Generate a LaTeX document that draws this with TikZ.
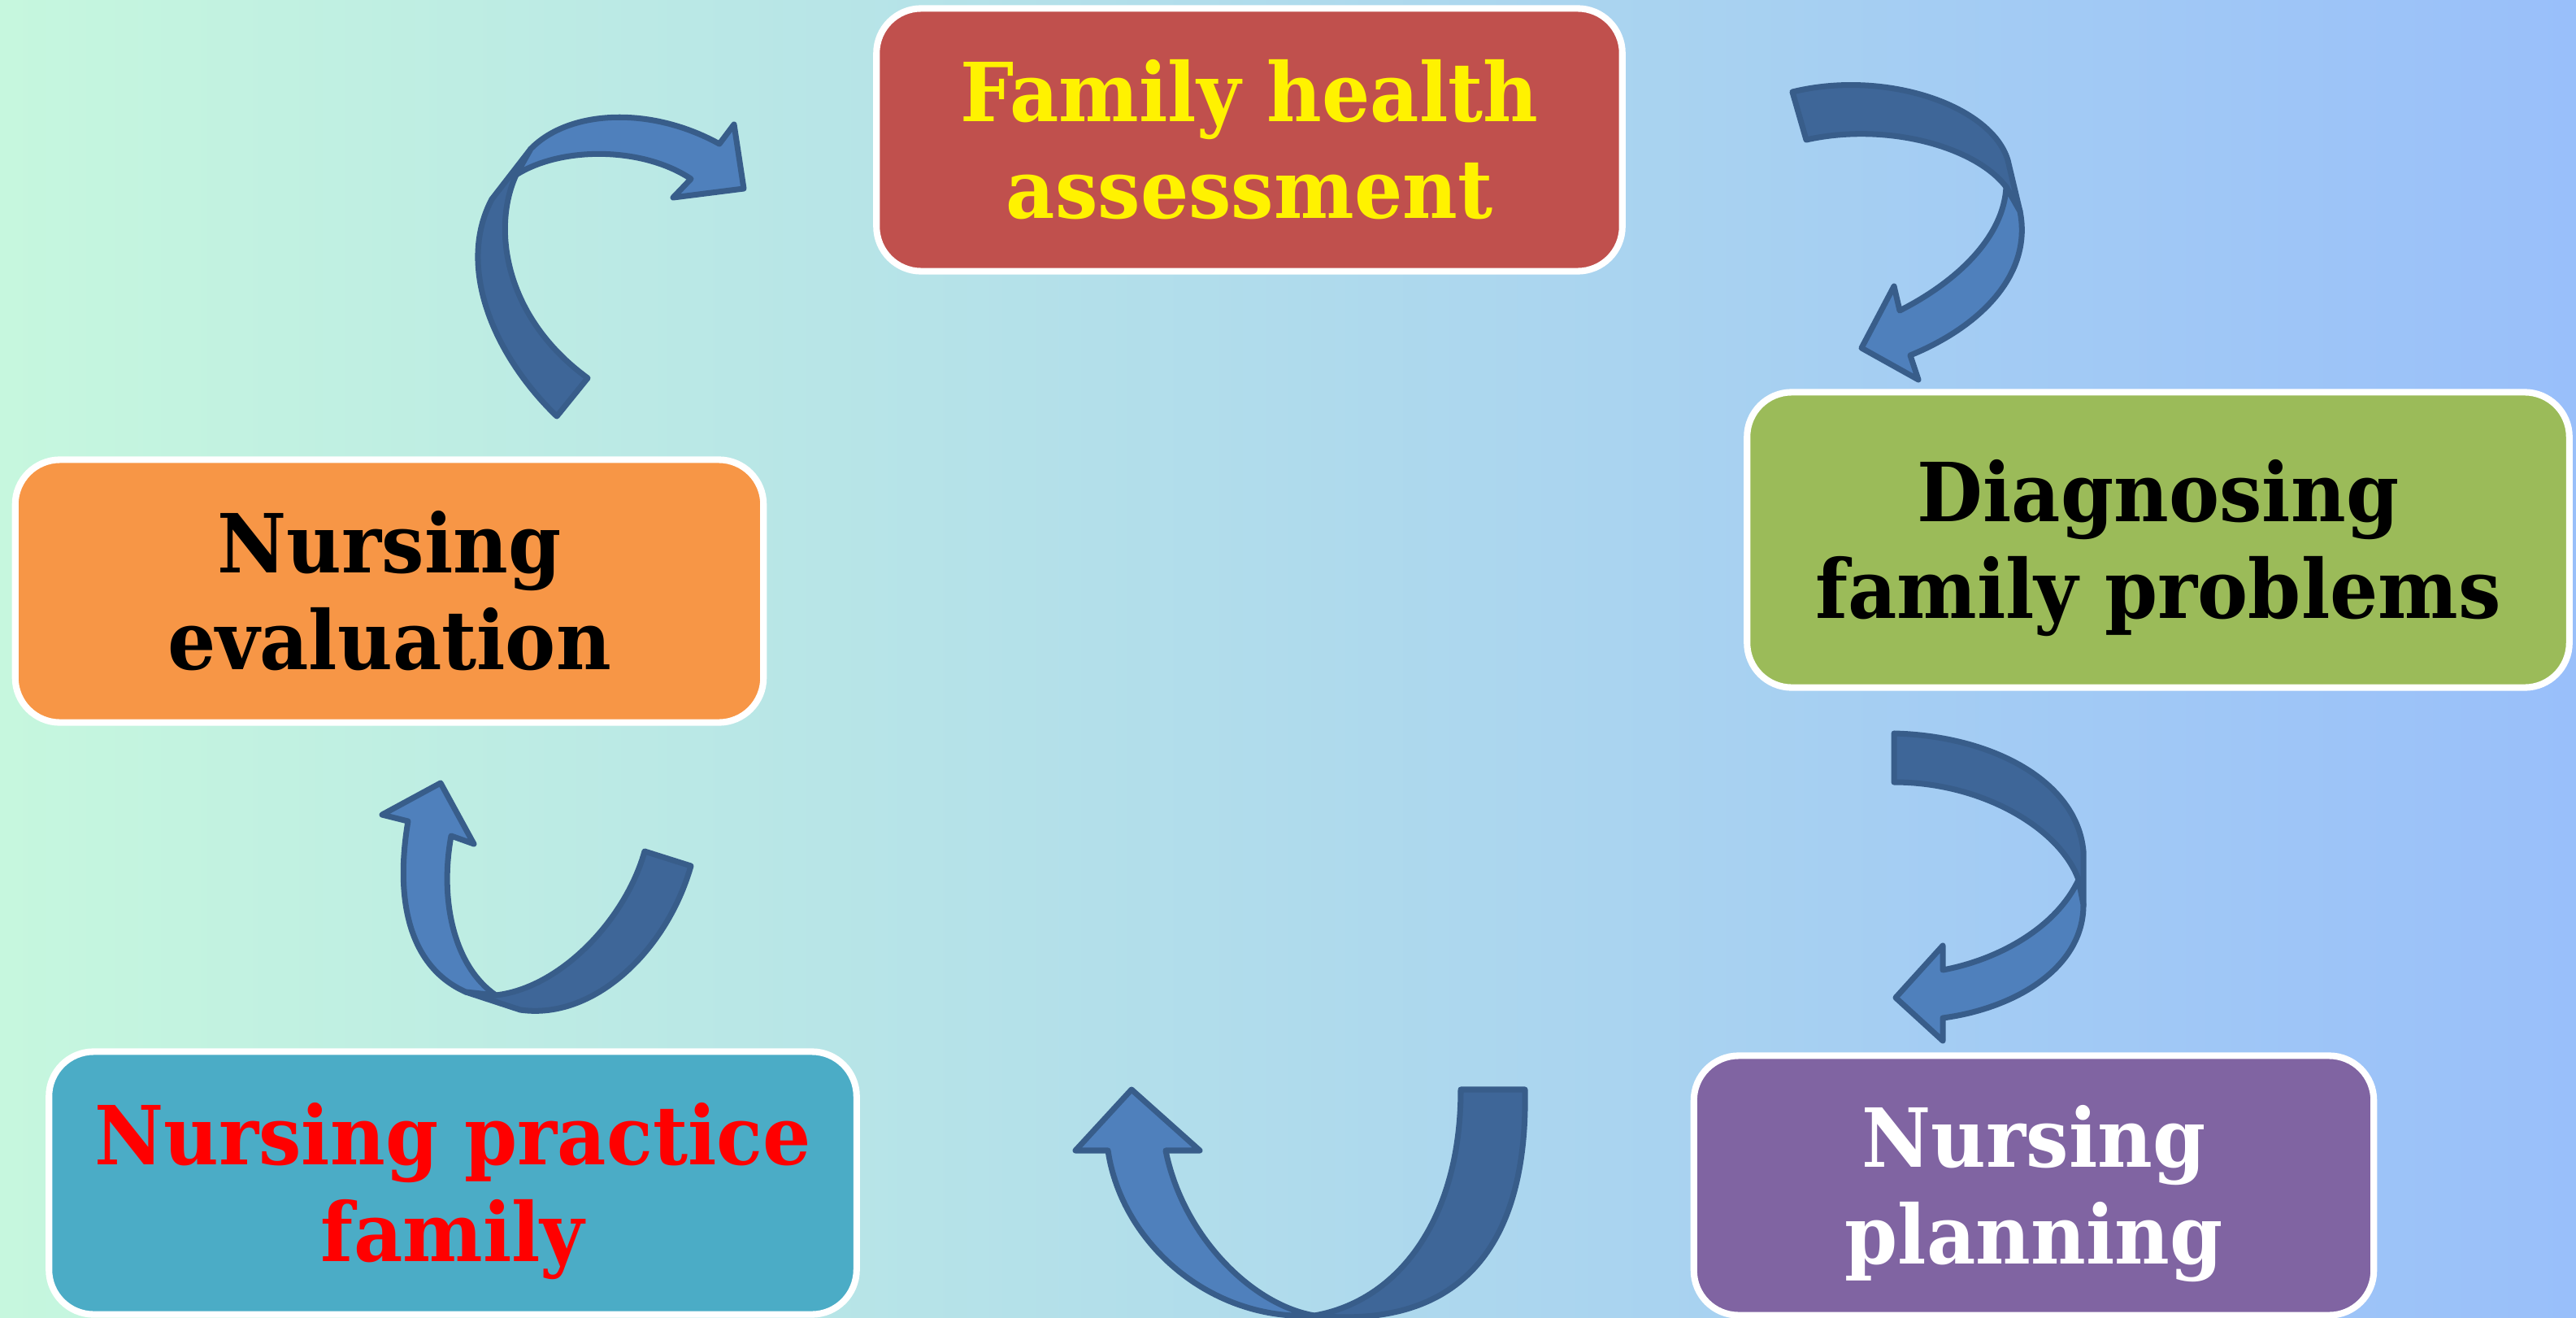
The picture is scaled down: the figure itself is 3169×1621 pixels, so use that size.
\documentclass[tikz,border=0pt]{standalone}
\usepackage{fontspec}
\setmainfont{DejaVu Serif}[FakeStretch=0.93]
\usepackage{xcolor}

\definecolor{bgleft}{RGB}{198,247,222}
\definecolor{bgright}{RGB}{153,191,250}
\definecolor{boxred}{RGB}{192,80,77}
\definecolor{boxgreen}{RGB}{155,187,89}
\definecolor{boxpurple}{RGB}{128,100,162}
\definecolor{boxteal}{RGB}{75,172,198}
\definecolor{boxorange}{RGB}{247,150,70}
\definecolor{arrowdark}{RGB}{62,102,152}
\definecolor{arrowlight}{RGB}{79,128,188}
\definecolor{arrowline}{RGB}{56,93,138}

\newcommand{\twolines}[2]{\rule{0pt}{29pt}#1\\#2\rule[-8pt]{0pt}{8pt}}

\begin{document}
\begin{tikzpicture}[x=0.01cm,y=-0.01cm]
  \tikzset{stage/.style = {draw=white, line width=2.3pt, rounded corners=0.55cm, align=center, inner sep=0pt, font=\fontsize{28.5}{34}\selectfont\bfseries}}
  \tikzset{back/.style = {fill=arrowdark, draw=arrowline, line width=2pt, line join=round}}
  \tikzset{front/.style = {fill=arrowlight, draw=arrowline, line width=2pt, line join=round}}

  \clip (0,0) rectangle (3169,1621);
  \shade[left color=bgleft, right color=bgright] (0,0) rectangle (3169,1621);

  \node[stage, fill=boxred, text=yellow, minimum width=9.17cm, minimum height=3.23cm] (FHA) at (1537,172) {\twolines{Family health}{assessment}};
  \node[stage, fill=boxgreen, text=black, minimum width=10.11cm, minimum height=3.63cm] (DFP) at (2655,664) {\twolines{Diagnosing}{family problems}};
  \node[stage, fill=boxpurple, text=white, minimum width=8.36cm, minimum height=3.19cm] (NP) at (2502,1458) {\twolines{Nursing}{planning}};
  \node[stage, fill=boxteal, text=red, minimum width=9.93cm, minimum height=3.23cm] (NPF) at (557,1455) {\twolines{Nursing practice}{family}};
  \node[stage, fill=boxorange, text=black, minimum width=9.2cm, minimum height=3.23cm] (NE) at (479,727) {\twolines{Nursing}{evaluation}};

  % assessment -> diagnosing
  \path[back] (2205,113) .. controls (2320,85) and (2450,130) .. (2470,197) -- (2485,260) -- (2468,230) .. controls (2430,180) and (2320,150) .. (2222,172) -- cycle;
  \path[front] (2468,230) .. controls (2465,290) and (2410,345) .. (2337,382) -- (2330,352) -- (2290,428) -- (2360,467) -- (2350,437) .. controls (2440,400) and (2500,335) .. (2485,260) -- cycle;

  % diagnosing -> planning
  \path[back] (2330,902) .. controls (2450,905) and (2555,960) .. (2563,1047) -- (2563,1113) -- (2557,1082) .. controls (2535,1020) and (2440,962) .. (2330,962) -- cycle;
  \path[front] (2557,1082) .. controls (2530,1140) and (2460,1180) .. (2390,1193) -- (2390,1163) -- (2332,1227) -- (2390,1280) -- (2390,1252) .. controls (2480,1240) and (2563,1190) .. (2563,1113) -- cycle;

  % planning -> practice
  \path[back] (1797,1340) -- (1876,1340) .. controls (1880,1540) and (1790,1635) .. (1617,1618) .. controls (1720,1600) and (1797,1500) .. (1797,1340) -- cycle;
  \path[front] (1617,1618) .. controls (1540,1605) and (1455,1520) .. (1434,1415) -- (1476,1415) -- (1392,1340) -- (1323,1415) -- (1363,1415) .. controls (1380,1530) and (1490,1625) .. (1617,1618) -- cycle;

  % practice -> evaluation
  \path[back] (793,1047) -- (850,1065) .. controls (820,1170) and (730,1255) .. (640,1242) -- (573,1220) -- (610,1224) .. controls (690,1215) and (770,1130) .. (793,1047) -- cycle;
  \path[front] (610,1224) .. controls (560,1190) and (540,1110) .. (555,1028) -- (583,1038) -- (542,963) -- (470,1002) -- (502,1010) .. controls (485,1110) and (505,1190) .. (573,1220) -- cycle;

  % evaluation -> assessment
  \path[back] (723,465) -- (685,512) .. controls (610,440) and (560,330) .. (605,245) -- (653,183) -- (635,215) .. controls (605,280) and (620,390) .. (723,465) -- cycle;
  \path[front] (635,215) .. controls (690,180) and (790,180) .. (850,220) -- (828,243) -- (915,232) -- (903,153) -- (885,177) .. controls (800,130) and (700,135) .. (653,183) -- cycle;
\end{tikzpicture}
\end{document}
